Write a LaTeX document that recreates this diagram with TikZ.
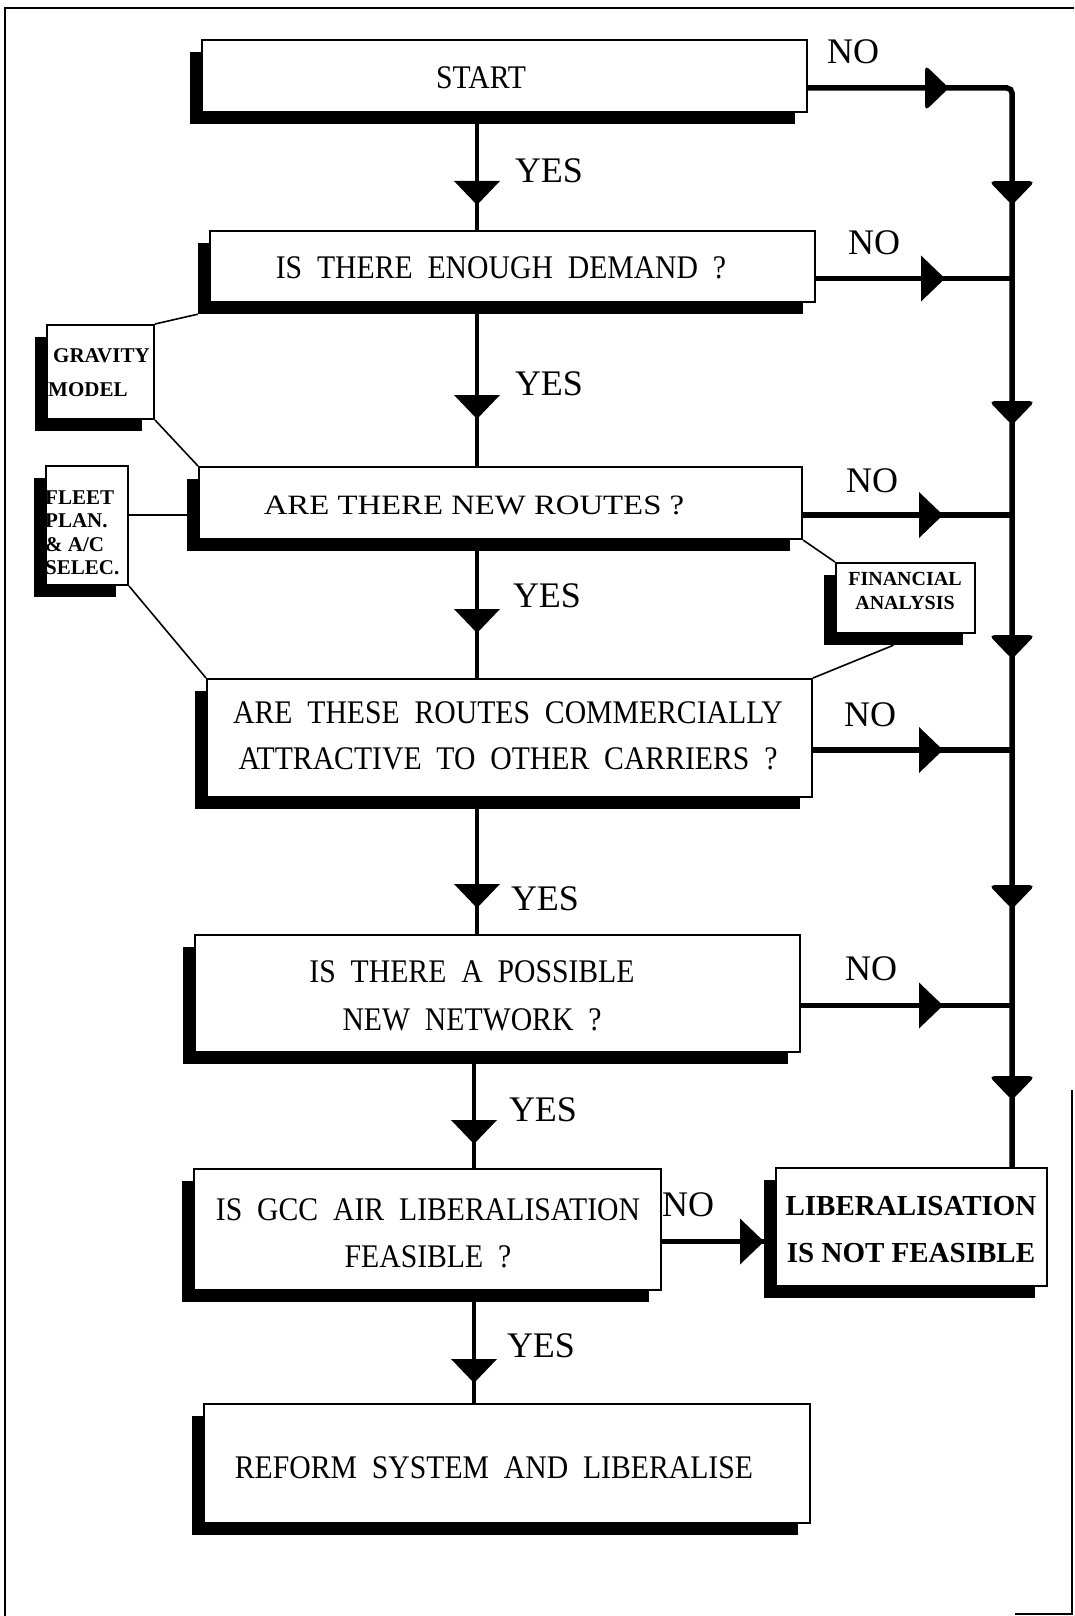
\documentclass[tikz,border=0pt]{standalone}
\usepackage{fontspec}
\usepackage{graphicx}
\setmainfont{Liberation Serif}
% slightly narrow letters with wide word gaps, as on a printer
\newfontfamily\boxfont[FakeStretch=0.9,WordSpace=2]{Liberation Serif}
\usetikzlibrary{decorations.markings}

% filled triangular arrow head, tip at the origin, pointing along the path
\newcommand\arrtri{\fill (1pt,0pt) -- (-23pt,23pt) -- (-23pt,-23pt) -- cycle;}

% box with a solid drop shadow to the lower left: name, left, top, right, bottom
\newcommand\shadowedbox[5]{%
  \pgfmathsetmacro\sbw{#4-#2}%
  \pgfmathsetmacro\sbh{#5-#3}%
  \pgfmathsetmacro\sbx{(#2+#4)/2}%
  \pgfmathsetmacro\sby{(#3+#5)/2}%
  \node[shadowrect, minimum width=\sbw pt, minimum height=\sbh pt] (#1-sh) at (\sbx-12,\sby+12) {};
  \node[boxrect, minimum width=\sbw pt, minimum height=\sbh pt] (#1) at (\sbx,\sby) {};
}

\tikzset{
  boxrect/.style={rectangle, draw, line width=2pt, fill=white, inner sep=0pt},
  shadowrect/.style={rectangle, fill=black, inner sep=0pt},
  boxtext/.style={font=\boxfont\fontsize{33}{46}\selectfont, align=center, inner sep=0pt},
  sidetext/.style={font=\bfseries\fontsize{21}{23.5}\selectfont, align=left, inner sep=0pt, anchor=west},
  lbl/.style={font=\fontsize{36}{40}\selectfont, inner sep=0pt},
  flow/.style={line width=4.5pt},
  nolink/.style={line width=5.5pt},
  thinlink/.style={line width=1.6pt},
  frame/.style={line width=1.5pt},
  tipat/.style={postaction={decorate, decoration={markings, mark=at position #1 with {\arrtri}}}},
}

\begin{document}
\begin{tikzpicture}[x=1pt, y=-1pt]
\useasboundingbox (0,0) rectangle (1074,1616);

% page frame
\draw[frame] (1074,8) -- (5,8) -- (5,1616);
\draw[frame] (1072,1090) -- (1072,1614) -- (1015,1614);

% boxes
\shadowedbox{start}{202}{40}{807}{112}
\shadowedbox{demand}{210}{231}{815}{302}
\shadowedbox{routes}{199}{467}{802}{539}
\shadowedbox{attract}{207}{679}{812}{797}
\shadowedbox{network}{195}{935}{800}{1052}
\shadowedbox{feasible}{194}{1169}{661}{1290}
\shadowedbox{notfeas}{776}{1168}{1047}{1286}
\shadowedbox{reform}{204}{1404}{810}{1523}
\shadowedbox{gravity}{47}{325}{154}{419}
\shadowedbox{fleet}{46}{466}{128}{585}
\shadowedbox{finance}{836}{563}{975}{633}

% box texts
\node[boxtext] (start-t) at (481,78) {START};
\node[boxtext] (demand-t) at (501,268) {IS THERE ENOUGH DEMAND ?};
\node[boxtext] (routes-t) at (474,505) {\scalebox{1.17}[1]{\rmfamily\fontsize{28}{32}\selectfont ARE THERE NEW ROUTES ?}};
\node[boxtext] (attract-t) at (508,736) {ARE THESE ROUTES COMMERCIALLY\\ATTRACTIVE TO OTHER CARRIERS ?};
\node[boxtext, font=\boxfont\fontsize{33}{48}\selectfont] (network-t) at (472,996) {IS THERE A POSSIBLE\\NEW NETWORK ?};
\node[boxtext, font=\boxfont\fontsize{33}{47}\selectfont] (feasible-t) at (428,1233) {IS GCC AIR LIBERALISATION\\FEASIBLE ?};
\node[boxtext, font=\rmfamily\bfseries\fontsize{29}{47}\selectfont] (notfeas-t) at (911,1230) {LIBERALISATION\\IS NOT FEASIBLE};
\node[boxtext] (reform-t) at (494,1468) {REFORM SYSTEM AND LIBERALISE};

% side boxes
\node[sidetext] (gravity-t1) at (53,356) {GRAVITY};
\node[sidetext] (gravity-t2) at (48,390) {MODEL};
\node[sidetext] (fleet-t) at (45,533) {FLEET\\PLAN.\\\& A/C\\SELEC.};
\node[sidetext, anchor=center, align=center, font=\bfseries\fontsize{20}{24}\selectfont] (finance-t) at (905,591) {FINANCIAL\\ANALYSIS};

% YES / NO labels
\node[lbl] (yes1) at (549,171) {YES};
\node[lbl] (yes2) at (549,384) {YES};
\node[lbl] (yes3) at (547,596) {YES};
\node[lbl] (yes4) at (545,899) {YES};
\node[lbl] (yes5) at (543,1110) {YES};
\node[lbl] (yes6) at (541,1346) {YES};
\node[lbl] (no1) at (853,52) {NO};
\node[lbl] (no2) at (874,243) {NO};
\node[lbl] (no3) at (872,481) {NO};
\node[lbl] (no4) at (870,715) {NO};
\node[lbl] (no5) at (871,969) {NO};
\node[lbl] (no6) at (688,1205) {NO};

% links to the side boxes
\draw[thinlink] (gravity.north east) -- (demand-sh.south west);
\draw[thinlink] (gravity.south east) -- (routes.north west);
\draw[thinlink] (fleet.east |- routes-sh.west) -- (routes-sh.west);
\draw[thinlink] (fleet.south east) -- (attract.north west);
\draw[thinlink] (routes.south east) -- (finance.north west);
\draw[thinlink] (finance-sh.south) -- (attract.north east);

% main YES column
\coordinate (colA) at (477,0);
\coordinate (colB) at (474,0);
\draw[flow, tipat=-26pt] (start-sh.south -| colA) -- (demand.north -| colA);
\draw[flow, tipat=-48pt] (demand-sh.south -| colA) -- (routes.north -| colA);
\draw[flow, tipat=-46pt] (routes-sh.south -| colA) -- (attract.north -| colA);
\draw[flow, tipat=-27pt] (attract-sh.south -| colA) -- (network.north -| colA);
\draw[flow, tipat=-25pt] (network-sh.south -| colB) -- (feasible.north -| colB);
\draw[flow, tipat=-21pt] (feasible-sh.south -| colB) -- (reform.north -| colB);

% NO return line on the right
\coordinate (rt) at (1012,88);
\draw[nolink, rounded corners=5pt, postaction={decorate, decoration={markings,
    mark=at position 140pt with {\arrtri},
    mark=at position 318pt with {\arrtri},
    mark=at position 538pt with {\arrtri},
    mark=at position 772pt with {\arrtri},
    mark=at position 1022pt with {\arrtri},
    mark=at position 1213pt with {\arrtri}}}]
  (start.east |- start-sh.east) -- (rt) -- (rt |- notfeas.north);
\draw[nolink, tipat=-68pt] (demand.east |- demand-sh.east) -- (rt |- demand-sh.east);
\draw[nolink, tipat=-70pt] (routes.east |- routes-sh.east) -- (rt |- routes-sh.east);
\draw[nolink, tipat=-70pt] (attract.east |- attract-sh.east) -- (rt |- attract-sh.east);
\draw[nolink, tipat=-70pt] (network.east |- network-sh.east) -- (rt |- network-sh.east);
\draw[nolink, tipat=-12pt] (feasible.east |- feasible-sh.east) -- (notfeas.west |- feasible-sh.east);
\end{tikzpicture}
\end{document}
